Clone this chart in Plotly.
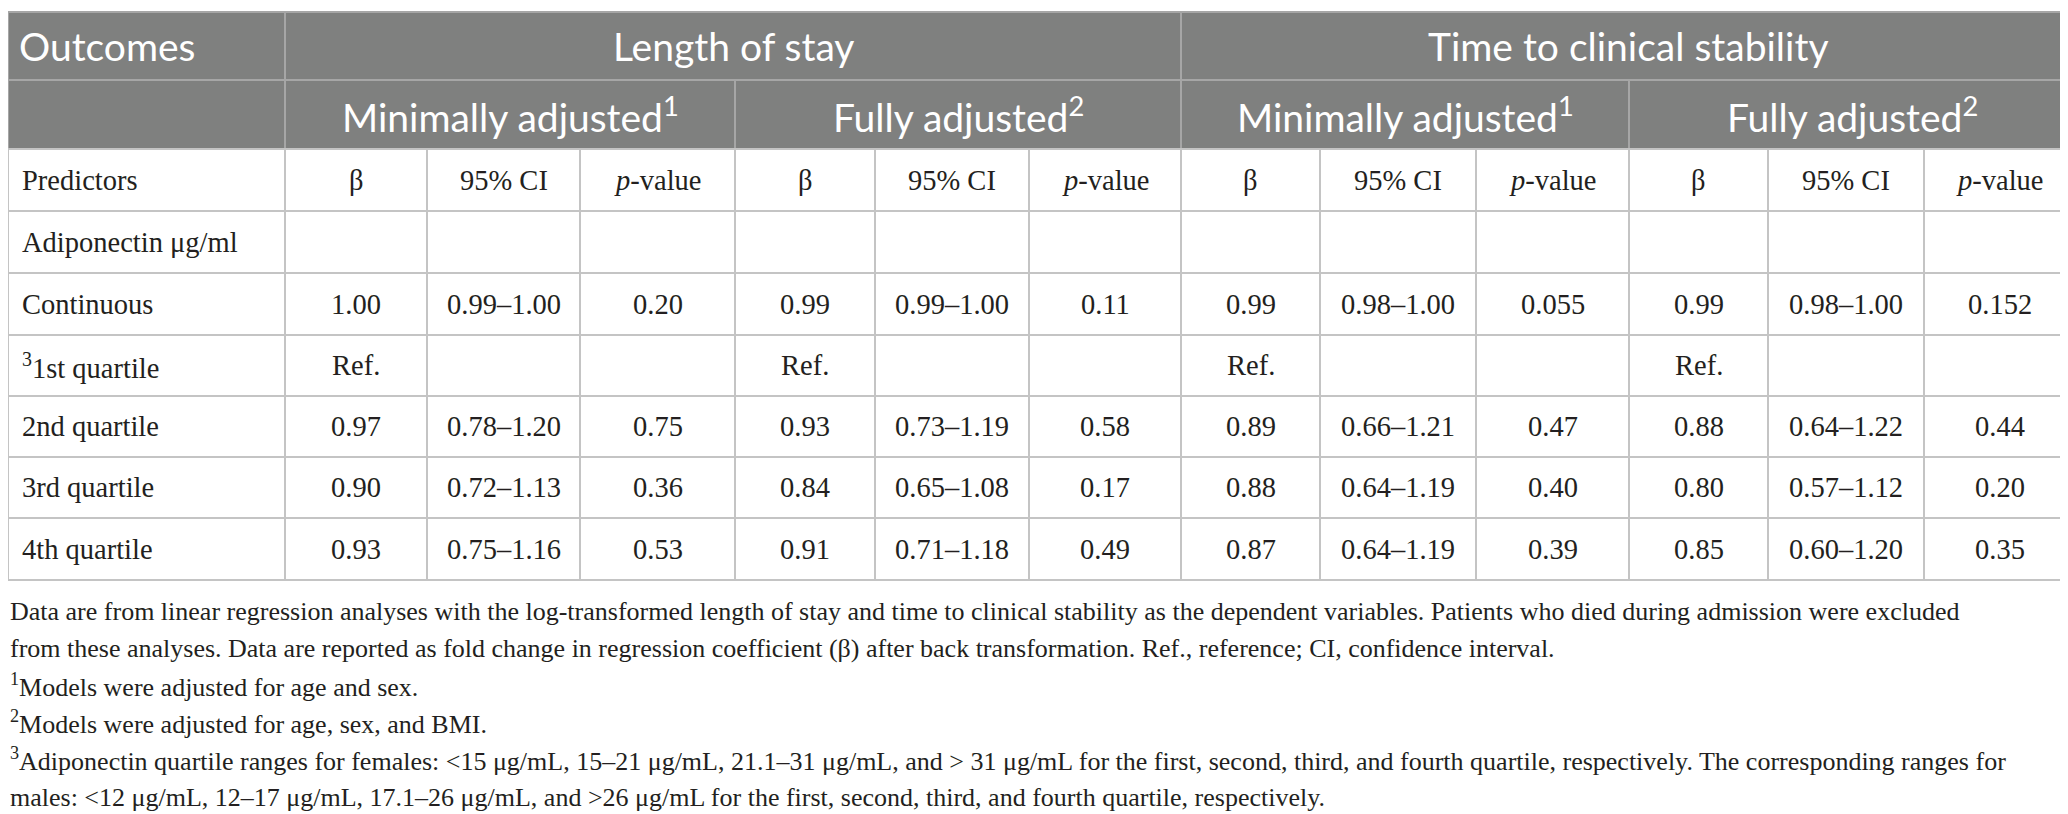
import plotly.graph_objects as go

# %% data
predictors = ["Adiponectin μg/ml", "Continuous", "<sup>3</sup>1st quartile",
              "2nd quartile", "3rd quartile", "4th quartile"]

outcomes = ["Length of stay", "Time to clinical stability"]
models = ["Minimally adjusted<sup>1</sup>", "Fully adjusted<sup>2</sup>"]
stat_labels = ["β", "95% CI", "<i>p</i>-value"]

los_min_beta = ["", "1.00", "Ref.", "0.97", "0.90", "0.93"]
los_min_ci = ["", "0.99–1.00", "", "0.78–1.20", "0.72–1.13", "0.75–1.16"]
los_min_p = ["", "0.20", "", "0.75", "0.36", "0.53"]

los_full_beta = ["", "0.99", "Ref.", "0.93", "0.84", "0.91"]
los_full_ci = ["", "0.99–1.00", "", "0.73–1.19", "0.65–1.08", "0.71–1.18"]
los_full_p = ["", "0.11", "", "0.58", "0.17", "0.49"]

tcs_min_beta = ["", "0.99", "Ref.", "0.89", "0.88", "0.87"]
tcs_min_ci = ["", "0.98–1.00", "", "0.66–1.21", "0.64–1.19", "0.64–1.19"]
tcs_min_p = ["", "0.055", "", "0.47", "0.40", "0.39"]

tcs_full_beta = ["", "0.99", "Ref.", "0.88", "0.80", "0.85"]
tcs_full_ci = ["", "0.98–1.00", "", "0.64–1.22", "0.57–1.12", "0.60–1.20"]
tcs_full_p = ["", "0.152", "", "0.44", "0.20", "0.35"]

footnotes = [
    "Data are from linear regression analyses with the log-transformed length of stay and time to clinical stability as the dependent variables. Patients who died during admission were excluded",
    "from these analyses. Data are reported as fold change in regression coefficient (β) after back transformation. Ref., reference; CI, confidence interval.",
    "<sup>1</sup>Models were adjusted for age and sex.",
    "<sup>2</sup>Models were adjusted for age, sex, and BMI.",
    "<sup>3</sup>Adiponectin quartile ranges for females: &lt;15 μg/mL, 15–21 μg/mL, 21.1–31 μg/mL, and &gt; 31 μg/mL for the first, second, third, and fourth quartile, respectively. The corresponding ranges for",
    "males: &lt;12 μg/mL, 12–17 μg/mL, 17.1–26 μg/mL, and &gt;26 μg/mL for the first, second, third, and fourth quartile, respectively.",
]

value_cols = [los_min_beta, los_min_ci, los_min_p,
              los_full_beta, los_full_ci, los_full_p,
              tcs_min_beta, tcs_min_ci, tcs_min_p,
              tcs_full_beta, tcs_full_ci, tcs_full_p]

# %% layout constants (pixels)
W, H = 2068, 814
COL_EDGES = [0, 277, 419, 572, 727, 867, 1021, 1173, 1312, 1468, 1621, 1760, 1916, 2067]
ROW_EDGES = [4, 72, 141, 203, 265, 327, 388, 449, 510, 572]
NOTE_Y0 = 603
NOTE_DY = 37.2

HEAD_FILL = "#7f807f"
HEAD_LINE = "#a6a6a6"
BODY_LINE = "#c4c4c4"
HEAD_FONT = dict(family="Lato", size=39, color="white")
BODY_FONT = dict(family="Liberation Serif", size=28.5, color="#231f20")
NOTE_FONT = dict(family="Liberation Serif", size=26, color="#231f20")

shapes = []
annotations = []


def hline(y, x0, x1, color):
    shapes.append(dict(type="line", x0=x0, x1=x1, y0=y, y1=y,
                       xref="x", yref="y", line=dict(color=color, width=2)))


def vline(x, y0, y1, color):
    shapes.append(dict(type="line", x0=x, x1=x, y0=y0, y1=y1,
                       xref="x", yref="y", line=dict(color=color, width=2)))


def text(x, y, s, font, anchor="center"):
    annotations.append(dict(x=x, y=y, xref="x", yref="y", text=s,
                            showarrow=False, xanchor=anchor, yanchor="middle",
                            font=font))


def mid(a, b):
    return (a + b) / 2


# %% header block
shapes.append(dict(type="rect", x0=COL_EDGES[0], x1=COL_EDGES[-1],
                   y0=ROW_EDGES[0], y1=ROW_EDGES[2], xref="x", yref="y",
                   fillcolor=HEAD_FILL, line=dict(width=0), layer="below"))

for y in ROW_EDGES[:2]:
    hline(y, COL_EDGES[0], COL_EDGES[-1], HEAD_LINE)

# row 1: each outcome spans 6 columns
for x in [COL_EDGES[0], COL_EDGES[1], COL_EDGES[7], COL_EDGES[-1]]:
    vline(x, ROW_EDGES[0], ROW_EDGES[1], HEAD_LINE)
# row 2: each model spans 3 columns
for x in [COL_EDGES[0], COL_EDGES[1], COL_EDGES[4], COL_EDGES[7], COL_EDGES[10], COL_EDGES[-1]]:
    vline(x, ROW_EDGES[1], ROW_EDGES[2], HEAD_LINE)

text(COL_EDGES[0] + 9, mid(ROW_EDGES[0], ROW_EDGES[1]), "Outcomes", HEAD_FONT, "left")
for i, name in enumerate(outcomes):
    x0 = COL_EDGES[1 + 6 * i]
    x1 = COL_EDGES[7 + 6 * i]
    text(mid(x0, x1), mid(ROW_EDGES[0], ROW_EDGES[1]), name, HEAD_FONT)
    for j, m in enumerate(models):
        a = COL_EDGES[1 + 6 * i + 3 * j]
        b = COL_EDGES[4 + 6 * i + 3 * j]
        text(mid(a, b), mid(ROW_EDGES[1], ROW_EDGES[2]), m, HEAD_FONT)

# %% body grid
for y in ROW_EDGES[2:]:
    hline(y, COL_EDGES[0], COL_EDGES[-1], BODY_LINE)
for x in COL_EDGES:
    vline(x, ROW_EDGES[2], ROW_EDGES[-1], BODY_LINE)

# sub-header row
yc = mid(ROW_EDGES[2], ROW_EDGES[3])
text(COL_EDGES[0] + 12, yc, "Predictors", BODY_FONT, "left")
for k in range(12):
    text(mid(COL_EDGES[k + 1], COL_EDGES[k + 2]), yc, stat_labels[k % 3], BODY_FONT)

# data rows
for r, label in enumerate(predictors):
    yc = mid(ROW_EDGES[r + 3], ROW_EDGES[r + 4])
    text(COL_EDGES[0] + 12, yc, label, BODY_FONT, "left")
    for k, col in enumerate(value_cols):
        if col[r]:
            text(mid(COL_EDGES[k + 1], COL_EDGES[k + 2]), yc, col[r], BODY_FONT)

# %% footnotes
for i, line in enumerate(footnotes):
    text(0, NOTE_Y0 + i * NOTE_DY, line, NOTE_FONT, "left")

# %% figure
fig = go.Figure()
fig.add_trace(go.Scatter(x=[0, W], y=[0, H], mode="markers",
                         marker=dict(opacity=0), hoverinfo="skip", showlegend=False))
fig.update_layout(
    width=W, height=H,
    margin=dict(l=0, r=0, t=0, b=0),
    paper_bgcolor="white", plot_bgcolor="white",
    xaxis=dict(range=[0, W], visible=False, fixedrange=True),
    yaxis=dict(range=[H, 0], visible=False, fixedrange=True),
    shapes=shapes,
    annotations=annotations,
    showlegend=False,
)

fig.write_html("out.html")
